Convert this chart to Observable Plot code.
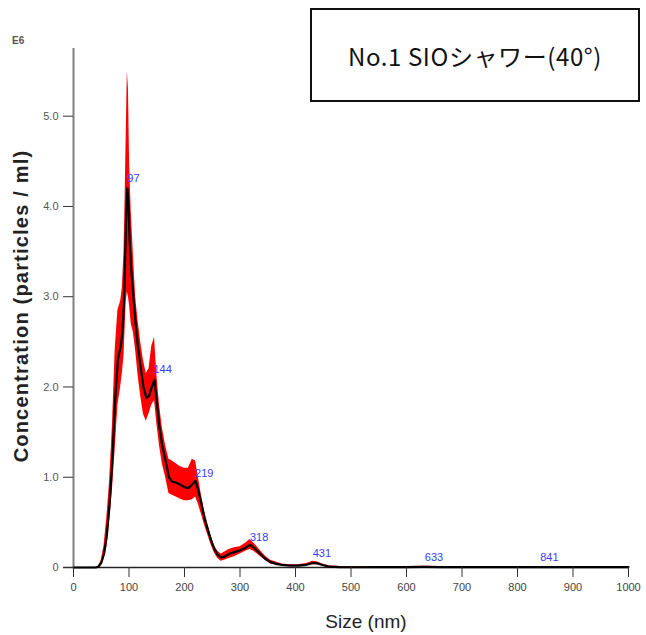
<!DOCTYPE html>
<html>
<head>
<meta charset="utf-8">
<script src="https://cdn.jsdelivr.net/npm/d3@7"></script>
<script src="https://cdn.jsdelivr.net/npm/@observablehq/plot@0.6"></script>
<style>
  html, body { margin: 0; padding: 0; background: #fff; }
  #wrap { position: relative; width: 646px; height: 635px; overflow: hidden; }
  #title {
    position: absolute; left: 310px; top: 8px; width: 326px; height: 90px;
    border: 2.5px solid #111; box-sizing: content-box;
    display: flex; align-items: center; justify-content: center;
    font-family: "Noto Sans CJK JP", sans-serif; font-size: 24px; color: #111;
    letter-spacing: 0.6px;
  }
  #e6 { position: absolute; left: 12px; top: 35px; font: bold 10px "Liberation Sans Narrow", "Liberation Sans", sans-serif; color: #555; }
  #ylab {
    position: absolute; left: 21px; top: 306px; transform: translate(-50%, -50%) rotate(-90deg);
    white-space: nowrap; font: bold 20px "Liberation Sans", Arial, sans-serif; color: #222;
    letter-spacing: 1.2px;
  }
  #xlab {
    position: absolute; left: 366px; top: 622px; transform: translate(-50%, -50%);
    white-space: nowrap; font: 19px "Liberation Sans Narrow", "Liberation Sans", sans-serif; color: #222;
  }
  svg { position: absolute; left: 0; top: 0; }
</style>
</head>
<body>
<div id="wrap"></div>
<script>
// ---- data (size in nm, concentration in E6 particles/ml) ----
const sizes = [0, 20, 40, 45, 50, 55, 60, 65, 70, 75, 80, 85, 88, 91, 93, 95, 97, 99, 101, 104, 108, 112, 116, 121, 126, 131, 136, 141, 146, 150, 155, 160, 166, 172, 178, 185, 192, 200, 207, 214, 220, 225, 230, 236, 242, 248, 254, 260, 266, 272, 280, 290, 300, 310, 318, 325, 335, 345, 355, 365, 375, 390, 405, 420, 431, 440, 450, 460, 480, 500, 550, 600, 633, 660, 700, 740, 800, 850, 900, 941, 970, 1000];
const meanConc = [0, 0, 0, 0.01, 0.05, 0.15, 0.35, 0.7, 1.18, 1.85, 2.3, 2.45, 2.6, 2.95, 3.4, 3.9, 4.2, 4.05, 3.65, 3.3, 3.0, 2.7, 2.45, 2.22, 2.0, 1.88, 1.9, 2.0, 2.08, 1.85, 1.55, 1.35, 1.18, 1.0, 0.95, 0.94, 0.92, 0.89, 0.88, 0.92, 0.96, 0.85, 0.72, 0.55, 0.42, 0.3, 0.2, 0.14, 0.11, 0.12, 0.15, 0.17, 0.19, 0.22, 0.25, 0.22, 0.16, 0.1, 0.06, 0.04, 0.03, 0.02, 0.02, 0.03, 0.05, 0.045, 0.025, 0.01, 0.005, 0.003, 0.004, 0.005, 0.006, 0.005, 0.004, 0.005, 0.004, 0.005, 0.004, 0.005, 0.004, 0.005];
const lowerConc = [0, 0, 0, 0.005, 0.03, 0.1, 0.22, 0.5, 0.85, 1.3, 1.8, 2.0, 2.15, 2.35, 2.65, 2.95, 3.05, 3.0, 2.9, 2.7, 2.6, 2.4, 2.15, 1.9, 1.7, 1.62, 1.7, 1.8, 1.85, 1.6, 1.35, 1.15, 1.0, 0.82, 0.8, 0.78, 0.76, 0.74, 0.74, 0.75, 0.78, 0.7, 0.6, 0.47, 0.36, 0.25, 0.16, 0.1, 0.07, 0.08, 0.1, 0.12, 0.15, 0.18, 0.2, 0.18, 0.13, 0.08, 0.04, 0.03, 0.02, 0.01, 0.01, 0.02, 0.03, 0.03, 0.015, 0.005, 0, 0, 0, 0, 0, 0, 0, 0, 0, 0, 0, 0, 0, 0];
const upperConc = [0, 0, 0, 0.015, 0.08, 0.24, 0.55, 0.95, 1.55, 2.4, 2.85, 2.95, 3.1, 3.5, 4.1, 4.8, 5.5, 5.3, 4.5, 3.95, 3.45, 3.0, 2.75, 2.5, 2.3, 2.15, 2.2, 2.45, 2.55, 2.15, 1.8, 1.55, 1.35, 1.2, 1.18, 1.15, 1.12, 1.1, 1.1, 1.2, 1.18, 1.0, 0.82, 0.63, 0.48, 0.35, 0.24, 0.18, 0.15, 0.17, 0.2, 0.22, 0.23, 0.27, 0.31, 0.27, 0.2, 0.13, 0.08, 0.06, 0.04, 0.03, 0.03, 0.045, 0.07, 0.06, 0.035, 0.02, 0.01, 0.008, 0.01, 0.012, 0.014, 0.012, 0.01, 0.012, 0.01, 0.012, 0.01, 0.012, 0.01, 0.012];

const peakSizes = [97, 144, 219, 318, 431, 633, 841];
const peakLabelConc = [4.31, 2.19, 1.04, 0.33, 0.155, 0.11, 0.11];

const xTicks = [0, 100, 200, 300, 400, 500, 600, 700, 800, 900, 1000];
const yTicks = [0, 1, 2, 3, 4, 5];
const yTickLabels = ["0", "1.0", "2.0", "3.0", "4.0", "5.0"];

const titleText = "No.1 SIOシャワー(40°)";
const xLabel = "Size (nm)";
const yLabel = "Concentration (particles / ml)";
const unitLabel = "E6";

// ---- build ----
const dist = sizes.map((s, i) => ({size: s, mean: meanConc[i], lo: lowerConc[i], hi: upperConc[i]}));
const peaks = peakSizes.map((s, i) => ({size: s, y: peakLabelConc[i], label: String(s)}));

const tickFont = "'Liberation Sans Narrow', 'Liberation Sans', sans-serif";

const chart = Plot.plot({
  width: 646,
  height: 635,
  marginLeft: 73,
  marginRight: 18,
  marginTop: 48,
  marginBottom: 68,
  style: {background: "transparent", fontFamily: tickFont},
  x: {domain: [0, 1000]},
  y: {domain: [0, 5.75]},
  marks: [
    Plot.areaY(dist, {x: "size", y1: "lo", y2: "hi", fill: "#ff0000", curve: "linear"}),
    Plot.ruleY([0], {stroke: "#222", strokeWidth: 1.5, insetLeft: -10}),
    Plot.ruleX([0], {stroke: "#808080", strokeWidth: 2}),
    Plot.lineY(dist, {x: "size", y: "mean", stroke: "#000", strokeWidth: 2.2, curve: "linear"}),
    Plot.text(peaks, {x: "size", y: "y", text: "label", fill: "#3a3aff", fontSize: 11, textAnchor: "start", fontFamily: tickFont}),
    Plot.axisX({ticks: xTicks, tickSize: 10, tickPadding: 6, tickFormat: d => String(d), fontSize: 11, color: "#444", stroke: "#333", label: null}),
    Plot.axisY({ticks: yTicks, tickSize: 10, tickPadding: 5, tickFormat: d => yTickLabels[yTicks.indexOf(d)], fontSize: 11, color: "#555", stroke: "#333", label: null})
  ]
});

const wrap = document.getElementById("wrap");
wrap.appendChild(chart);

const t = document.createElement("div"); t.id = "title"; t.textContent = titleText; wrap.appendChild(t);
const e = document.createElement("div"); e.id = "e6"; e.textContent = unitLabel; wrap.appendChild(e);
const yl = document.createElement("div"); yl.id = "ylab"; yl.textContent = yLabel; wrap.appendChild(yl);
const xl = document.createElement("div"); xl.id = "xlab"; xl.textContent = xLabel; wrap.appendChild(xl);
</script>
</body>
</html>
